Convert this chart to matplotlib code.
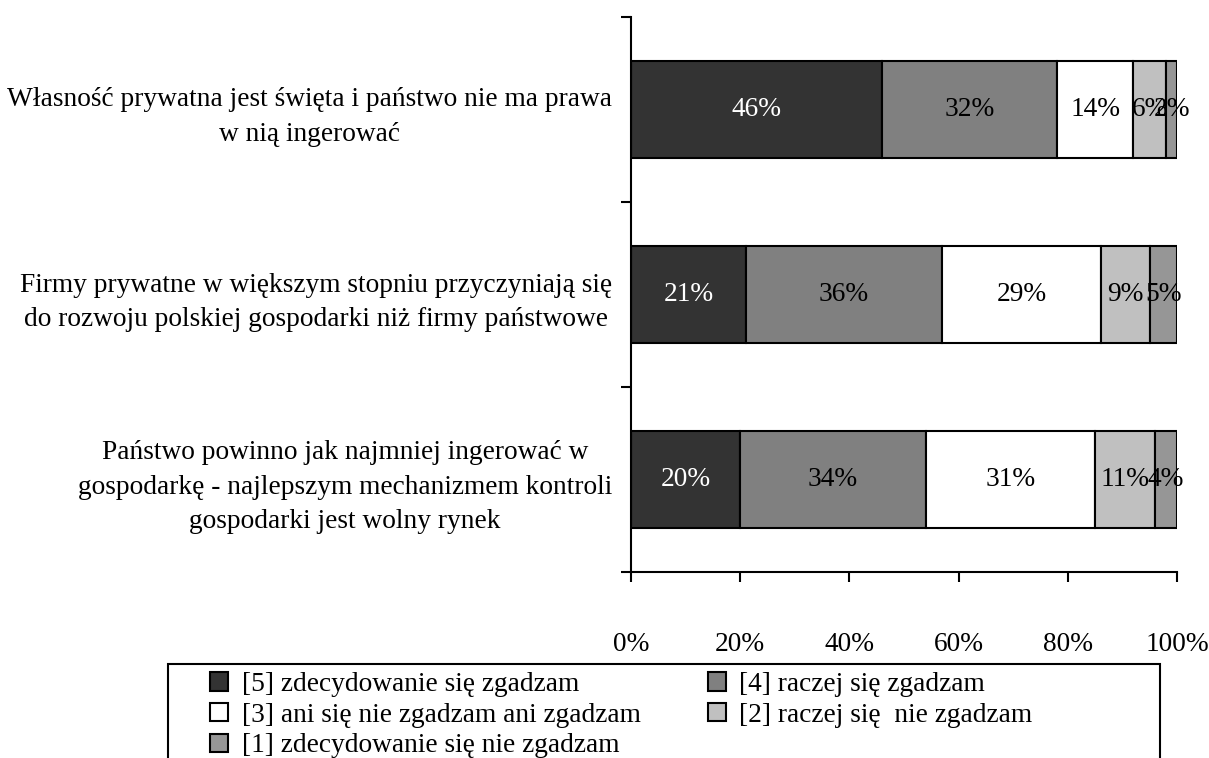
import numpy as np
import matplotlib
matplotlib.use("Agg")
import matplotlib.pyplot as plt
from matplotlib.patches import Patch, Rectangle

plt.rcParams['font.family'] = ['Liberation Serif', 'DejaVu Serif']

categories = [
    "Własność prywatna jest święta i państwo nie ma prawa\nw nią ingerować",
    "Firmy prywatne w większym stopniu przyczyniają się\ndo rozwoju polskiej gospodarki niż firmy państwowe",
    "Państwo powinno jak najmniej ingerować w\ngospodarkę - najlepszym mechanizmem kontroli\ngospodarki jest wolny rynek",
]
series_names = [
    "[5] zdecydowanie się zgadzam",
    "[4] raczej się zgadzam",
    "[3] ani się nie zgadzam ani zgadzam",
    "[2] raczej się  nie zgadzam",
    "[1] zdecydowanie się nie zgadzam",
]
values = [
    [46, 21, 20],
    [32, 36, 34],
    [14, 29, 31],
    [6, 9, 11],
    [2, 5, 4],
]
colors = ["#333333", "#808080", "#ffffff", "#c0c0c0", "#969696"]
text_colors = ["white", "black", "black", "black", "black"]
xticks = [0, 20, 40, 60, 80, 100]

W, H = 1209, 758
fig = plt.figure(figsize=(W / 100, H / 100), dpi=100)
ax = fig.add_axes([631 / W, 1 - 572 / H, (1177 - 631) / W, (572 - 17) / H])

fs = 19.7
y = np.arange(len(categories))
left = np.zeros(len(categories))
for name, vals, c, tc in zip(series_names, values, colors, text_colors):
    vals = np.array(vals, dtype=float)
    bars = ax.barh(y, vals, left=left, height=0.52, color=c,
                   edgecolor="black", linewidth=1.5, label=name)
    for b, v in zip(bars, vals):
        ax.text(b.get_x() + b.get_width() / 2, b.get_y() + b.get_height() / 2,
                f"{int(v)}%", ha="center", va="center", color=tc, fontsize=fs)
    left += vals

ax.set_xlim(0, 100)
ax.set_ylim(len(categories) - 0.5, -0.5)
ax.set_xticks(xticks)
ax.set_xticklabels([f"{t}%" for t in xticks], fontsize=fs)
ax.set_yticks(np.arange(len(categories) + 1) - 0.5)
ax.set_yticklabels([])
ax.set_yticks(y, minor=True)
ax.set_yticklabels(categories, minor=True, fontsize=fs, ha="right",
                   multialignment="center", linespacing=1.5)
ax.tick_params(axis="y", which="major", direction="out", length=7, width=1.5)
ax.tick_params(axis="y", which="minor", length=0, pad=13.5)
ax.tick_params(axis="x", direction="out", length=7, width=1.5, pad=36)
for s in ["top", "right"]:
    ax.spines[s].set_visible(False)
for s in ["left", "bottom"]:
    ax.spines[s].set_linewidth(1.5)

handles = [Patch(facecolor=c, edgecolor="black", linewidth=1.5) for c in colors]
order = [0, 2, 4, 1, 3]
fig.legend([handles[i] for i in order], [series_names[i] for i in order],
           loc="upper left", bbox_to_anchor=(210 / W, 1 - 672 / H),
           ncol=2, frameon=False, fontsize=fs, handlelength=0.66,
           handleheight=0.66, handletextpad=0.5, labelspacing=0.21,
           columnspacing=2.45, borderpad=0, borderaxespad=0)
fig.patches.append(Rectangle((168 / W, -0.05), (1160 - 168) / W, 0.05 + 1 - 664 / H,
                             transform=fig.transFigure, fill=False,
                             edgecolor="black", linewidth=1.5, clip_on=False))

fig.savefig("out.png", dpi=100)
